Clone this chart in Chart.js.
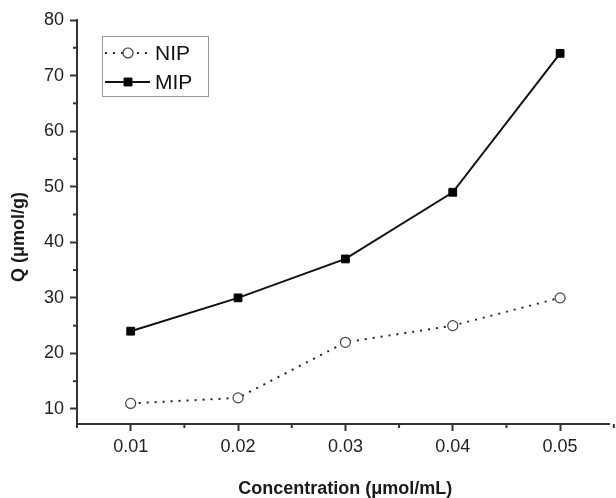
<!DOCTYPE html>
<html>
<head>
<meta charset="utf-8">
<script src="https://cdn.jsdelivr.net/npm/chart.js@4/dist/chart.umd.min.js"></script>
<style>
  html, body { margin: 0; padding: 0; background: #fff; }
  #wrap { width: 616px; height: 498px; position: relative; }
</style>
</head>
<body>
<div id="wrap"><canvas id="qchart"></canvas></div>
<script>
// values
const concentrations = [0.01, 0.02, 0.03, 0.04, 0.05];
const nipValues = [11, 12, 22, 25, 30];
const mipValues = [24, 30, 37, 49, 74];

const xTicks = [0.01, 0.02, 0.03, 0.04, 0.05];
const xMinor = [0.005, 0.015, 0.025, 0.035, 0.045, 0.055];
const yTicks = [10, 20, 30, 40, 50, 60, 70, 80];
const yMinor = [15, 25, 35, 45, 55, 65, 75];

const seriesNames = ['NIP', 'MIP'];
const xTitle = 'Concentration (\u03bcmol/mL)';
const yTitle = 'Q (\u03bcmol/g)';

const FONT = '"Liberation Sans", Arial, sans-serif';
const AXIS = '#333';

function toPoints(vals) {
  return concentrations.map((c, i) => ({ x: c, y: vals[i] }));
}

// minor ticks, axis titles and the boxed legend
const extras = {
  id: 'extras',
  afterDraw(chart) {
    const ctx = chart.ctx;
    const xs = chart.scales.x, ys = chart.scales.y;
    const area = chart.chartArea;
    ctx.save();
    ctx.strokeStyle = AXIS;
    ctx.lineWidth = 2;
    xMinor.forEach(v => {
      const px = xs.getPixelForValue(v);
      if (px < area.left - 1 || px > chart.width) return;
      ctx.beginPath();
      ctx.moveTo(px, area.bottom);
      ctx.lineTo(px, area.bottom + 4);
      ctx.stroke();
    });
    yMinor.forEach(v => {
      const py = ys.getPixelForValue(v);
      ctx.beginPath();
      ctx.moveTo(area.left, py);
      ctx.lineTo(area.left - 4, py);
      ctx.stroke();
    });

    ctx.fillStyle = '#1a1a1a';
    ctx.font = 'bold 18px ' + FONT;
    ctx.textAlign = 'center';
    ctx.textBaseline = 'middle';
    ctx.fillText(xTitle, (area.left + area.right) / 2 + 2, 489);
    ctx.save();
    ctx.translate(19, 237);
    ctx.rotate(-Math.PI / 2);
    ctx.fillText(yTitle, 0, 0);
    ctx.restore();

    // legend box
    ctx.strokeStyle = '#999';
    ctx.lineWidth = 1;
    ctx.strokeRect(102.5, 36.5, 106, 60);
    const rows = [53, 82];
    chart.data.datasets.forEach((ds, i) => {
      const y = rows[i];
      ctx.save();
      ctx.strokeStyle = ds.borderColor;
      ctx.lineWidth = ds.borderWidth;
      ctx.setLineDash(ds.borderDash || []);
      ctx.lineCap = ds.borderCapStyle || 'butt';
      ctx.beginPath();
      ctx.moveTo(105, y);
      ctx.lineTo(150, y);
      ctx.stroke();
      ctx.restore();
      Chart.helpers.drawPoint(ctx, {
        pointStyle: ds.pointStyle,
        radius: ds.pointRadius,
        borderWidth: ds.pointBorderWidth,
        rotation: 0
      }, 128, y);
      ctx.save();
      ctx.fillStyle = ds.pointBackgroundColor;
      ctx.strokeStyle = ds.pointBorderColor;
      ctx.lineWidth = ds.pointBorderWidth;
      ctx.fill();
      ctx.stroke();
      ctx.restore();
      ctx.fillStyle = '#111';
      ctx.font = '21px ' + FONT;
      ctx.textAlign = 'left';
      ctx.textBaseline = 'middle';
      ctx.fillText(seriesNames[i], 155, y + 1);
    });
    ctx.restore();
  }
};

new Chart(document.getElementById('qchart'), {
  type: 'line',
  data: {
    datasets: [
      {
        label: seriesNames[0],
        data: toPoints(nipValues),
        borderColor: '#222',
        borderWidth: 2,
        borderDash: [2, 6],
        pointStyle: 'circle',
        pointRadius: 5,
        pointBorderWidth: 1.2,
        pointBorderColor: '#444',
        pointBackgroundColor: '#fff',
        tension: 0
      },
      {
        label: seriesNames[1],
        data: toPoints(mipValues),
        borderColor: '#111',
        borderWidth: 2,
        pointStyle: 'rect',
        pointRadius: 5.5,
        pointBorderWidth: 1,
        pointBorderColor: '#000',
        pointBackgroundColor: '#000',
        tension: 0
      }
    ]
  },
  options: {
    responsive: true,
    maintainAspectRatio: false,
    animation: false,
    layout: { padding: { top: 20, right: 0, left: 0, bottom: 0 } },
    plugins: { legend: { display: false }, tooltip: { enabled: false } },
    scales: {
      x: {
        type: 'linear',
        min: 0.005,
        max: 0.0546,
        afterBuildTicks: s => { s.ticks = xTicks.map(v => ({ value: v })); },
        afterFit: s => { s.height = 74; },
        border: { display: true, color: AXIS, width: 2 },
        grid: { display: true, drawOnChartArea: false, tickLength: 7, tickWidth: 2, tickColor: AXIS },
        ticks: {
          color: '#222',
          padding: 5,
          maxRotation: 0,
          font: { family: FONT, size: 18 },
          callback: v => v.toFixed(2)
        }
      },
      y: {
        min: 7.3,
        max: 80,
        afterBuildTicks: s => { s.ticks = yTicks.map(v => ({ value: v })); },
        afterFit: s => { s.width = 77; },
        border: { display: true, color: AXIS, width: 2 },
        grid: { display: true, drawOnChartArea: false, tickLength: 7, tickWidth: 2, tickColor: AXIS },
        ticks: {
          color: '#222',
          padding: 6,
          font: { family: FONT, size: 18 }
        }
      }
    }
  },
  plugins: [extras]
});
</script>
</body>
</html>
